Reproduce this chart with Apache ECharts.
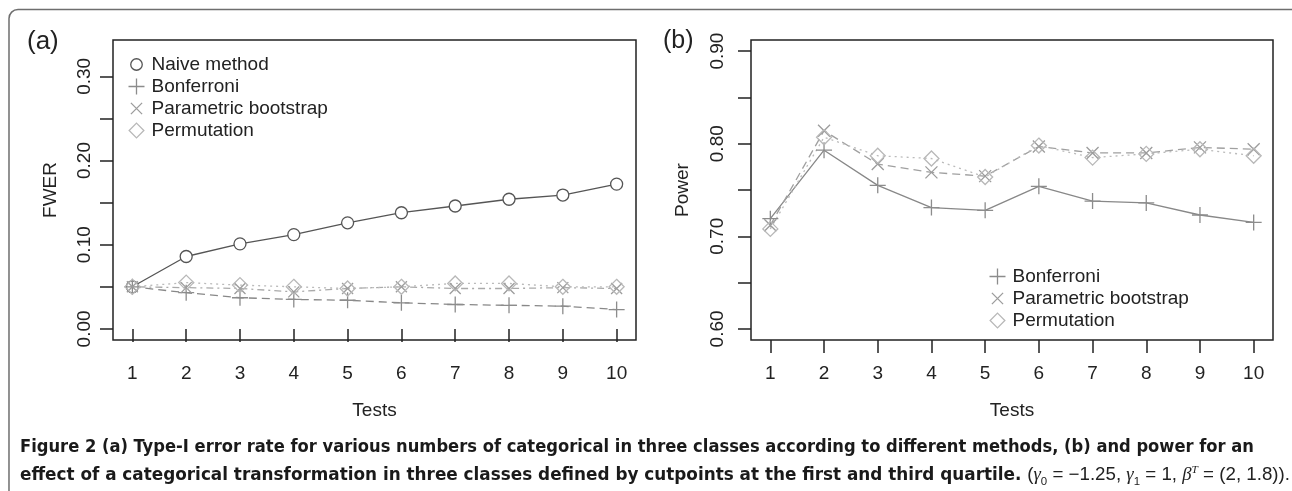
<!DOCTYPE html>
<html><head><meta charset="utf-8">
<script src="https://cdn.jsdelivr.net/npm/echarts@6/dist/echarts.min.js"></script>
<style>
html,body{margin:0;padding:0;background:#fff;}
#chart{position:absolute;left:0;top:0;width:1292px;height:491px;}
.cap{position:absolute;left:20px;white-space:nowrap;font-family:"Liberation Sans Narrow","DejaVu Sans Condensed","Liberation Sans",sans-serif;font-weight:bold;font-size:18px;color:#1a1a1a;transform-origin:0 0;line-height:20px;}
.math{font-weight:normal;color:#222;font-family:"Liberation Sans Narrow","Liberation Sans",sans-serif;}
.math i{font-family:"Liberation Serif",serif;}
</style></head><body>
<div id="chart"></div>
<div class="cap" id="cap1" data-w="1234" style="top:436px">Figure 2 (a) Type-I error rate for various numbers of categorical in three classes according to different methods, (b) and power for an</div>
<div class="cap" id="cap2" data-w="1270" style="top:459px">effect of a categorical transformation in three classes defined by cutpoints at the first and third quartile. <span class="math">(<i>γ</i><sub style="font-size:11px">0</sub> = −1.25, <i>γ</i><sub style="font-size:11px">1</sub> = 1, <i>β</i><sup style="font-size:11px"><i>T</i></sup> = (2, 1.8)).</span></div>
<script>
// ---- data ----
const tests = [1, 2, 3, 4, 5, 6, 7, 8, 9, 10];
const fwerNaive       = [0.050, 0.086, 0.101, 0.112, 0.126, 0.138, 0.146, 0.154, 0.159, 0.172];
const fwerBonferroni  = [0.050, 0.043, 0.037, 0.035, 0.034, 0.031, 0.029, 0.028, 0.027, 0.023];
const fwerParametric  = [0.050, 0.049, 0.048, 0.044, 0.048, 0.050, 0.048, 0.048, 0.049, 0.048];
const fwerPermutation = [0.050, 0.055, 0.052, 0.050, 0.048, 0.050, 0.054, 0.054, 0.050, 0.050];
const powerBonferroni  = [0.719, 0.793, 0.755, 0.731, 0.728, 0.754, 0.738, 0.736, 0.723, 0.715];
const powerParametric  = [0.712, 0.814, 0.778, 0.769, 0.765, 0.797, 0.790, 0.790, 0.796, 0.794];
const powerPermutation = [0.708, 0.807, 0.787, 0.784, 0.764, 0.798, 0.785, 0.789, 0.794, 0.787];
const fwerTicks  = [0, 0.05, 0.10, 0.15, 0.20, 0.25, 0.30];
const fwerLabels = [0, 0.10, 0.20, 0.30];
const powerTicks  = [0.60, 0.65, 0.70, 0.75, 0.80, 0.85, 0.90];
const powerLabels = [0.60, 0.70, 0.80, 0.90];
const seriesNames = ['Naive method', 'Bonferroni', 'Parametric bootstrap', 'Permutation'];

// ---- styles ----
const FONT = '"Liberation Sans", Arial, sans-serif';
const C = { naive: '#555555', bonf: '#8c8c8c', param: '#9c9c9c', perm: '#b8b8b8' };
const SYM = {
  circle: 'path://M1,0A1,1 0 1 1 -1,0A1,1 0 1 1 1,0Z',
  plus: 'path://M0,-1L0,1M-1,0L1,0',
  cross: 'path://M-1,-1L1,1M-1,1L1,-1',
  diamond: 'path://M0,-1L1,0L0,1L-1,0Z'
};
const LEGSYM = {
  circle: 'path://M-1,-1M1,1M0.72,0A0.72,0.72 0 1 1 -0.72,0A0.72,0.72 0 1 1 0.72,0Z',
  plus: 'path://M0,-1L0,1M-1,0L1,0',
  cross: 'path://M-1,-1M1,1M-0.7,-0.7L0.7,0.7M-0.7,0.7L0.7,-0.7',
  diamond: 'path://M-1,-1M1,1M0,-0.92L0.92,0L0,0.92L-0.92,0Z'
};

const pairs = ys => tests.map((t, i) => [t, ys[i]]);

function mkSeries(name, idx, ys, color, dash, sym, size, fill, lineColor) {
  return {
    type: 'line', name: name, xAxisIndex: idx, yAxisIndex: idx,
    data: pairs(ys), symbol: SYM[sym], symbolSize: size,
    itemStyle: { color: fill, borderColor: color, borderWidth: 1.3 },
    lineStyle: { color: lineColor || color, width: 1.3, type: dash },
    emphasis: { disabled: true }, silent: true
  };
}

function xAxis(idx) {
  return {
    type: 'value', gridIndex: idx, min: 0.64, max: 10.36,
    name: 'Tests', nameLocation: 'middle', nameGap: 61,
    nameTextStyle: { fontFamily: FONT, fontSize: 19, color: '#222' },
    axisLine: { show: false }, splitLine: { show: false },
    axisTick: { show: true, inside: false, length: 13, customValues: tests, lineStyle: { color: '#222', width: 1.5 } },
    axisLabel: { customValues: tests, margin: 24, fontFamily: FONT, fontSize: 19, color: '#222' }
  };
}
function yAxis(idx, name, min, max, ticks, labels, margin, gap) {
  return {
    type: 'value', gridIndex: idx, min: min, max: max,
    name: name, nameLocation: 'middle', nameGap: gap, nameRotate: 90,
    nameTextStyle: { fontFamily: FONT, fontSize: 19, color: '#222' },
    axisLine: { show: false }, splitLine: { show: false },
    axisTick: { show: true, inside: false, length: 13, customValues: ticks, lineStyle: { color: '#222', width: 1.5 } },
    axisLabel: { customValues: labels, rotate: 90, margin: margin, fontFamily: FONT, fontSize: 19, color: '#222',
                 formatter: v => Number(v).toFixed(2) }
  };
}
function legendItem(name, sym, color) {
  return { name: name, icon: LEGSYM[sym], itemStyle: { color: 'none', borderColor: color, borderWidth: 1.3 } };
}

const chart = echarts.init(document.getElementById('chart'), null, { renderer: 'canvas' });
chart.setOption({
  animation: false,
  backgroundColor: '#ffffff',
  grid: [
    { left: 113, top: 40, width: 523, height: 300, show: true, borderColor: '#222', borderWidth: 1.5, backgroundColor: 'transparent' },
    { left: 751, top: 40, width: 522, height: 300, show: true, borderColor: '#222', borderWidth: 1.5, backgroundColor: 'transparent' }
  ],
  xAxis: [xAxis(0), xAxis(1)],
  yAxis: [
    yAxis(0, 'FWER', -0.0132, 0.3432, fwerTicks, fwerLabels, 19, 53),
    yAxis(1, 'Power', 0.588, 0.912, powerTicks, powerLabels, 24, 59)
  ],
  legend: [
    {
      orient: 'vertical', left: 121, top: 49, itemWidth: 20, itemHeight: 16, itemGap: 1,
      selectedMode: false,
      textStyle: { fontFamily: FONT, fontSize: 19, color: '#222', lineHeight: 19 },
      data: [
        legendItem(seriesNames[0], 'circle', C.naive),
        legendItem(seriesNames[1], 'plus', C.bonf),
        legendItem(seriesNames[2], 'cross', C.param),
        legendItem(seriesNames[3], 'diamond', C.perm)
      ]
    },
    {
      orient: 'vertical', left: 982, top: 261, itemWidth: 20, itemHeight: 16, itemGap: 1,
      selectedMode: false,
      textStyle: { fontFamily: FONT, fontSize: 19, color: '#222', lineHeight: 19 },
      data: [
        legendItem(seriesNames[1], 'plus', C.bonf),
        legendItem(seriesNames[2], 'cross', C.param),
        legendItem(seriesNames[3], 'diamond', C.perm)
      ]
    }
  ],
  graphic: [
    { type: 'rect', shape: { x: 9, y: 9.5, width: 1300, height: 520, r: 9 }, style: { fill: 'none', stroke: '#6e6e6e', lineWidth: 1.5 }, silent: true, z: -1 },
    { type: 'text', x: 27, y: 29, style: { text: '(a)', fontFamily: FONT, fontSize: 26, fill: '#222' }, silent: true },
    { type: 'text', x: 663, y: 29, style: { text: '(b)', fontFamily: FONT, fontSize: 25, fill: '#222' }, silent: true }
  ],
  series: [
    mkSeries(seriesNames[0], 0, fwerNaive, C.naive, 'solid', 'circle', 12, '#ffffff'),
    mkSeries(seriesNames[1], 0, fwerBonferroni, C.bonf, [8, 5], 'plus', 16, 'none', '#888'),
    mkSeries(seriesNames[2], 0, fwerParametric, C.param, [2, 4, 7, 4], 'cross', 11, 'none', '#aaa'),
    mkSeries(seriesNames[3], 0, fwerPermutation, C.perm, [2, 4], 'diamond', 15, 'none', '#bbb'),
    mkSeries(seriesNames[1], 1, powerBonferroni, C.bonf, 'solid', 'plus', 16, 'none', '#888'),
    mkSeries(seriesNames[2], 1, powerParametric, C.param, [8, 5], 'cross', 12, 'none', '#a0a0a0'),
    mkSeries(seriesNames[3], 1, powerPermutation, C.perm, [2, 4], 'diamond', 15, 'none', '#bbb')
  ]
});

// fit caption lines to their measured widths in the reference
document.querySelectorAll('.cap').forEach(el => {
  const w = el.getBoundingClientRect().width;
  const target = Number(el.dataset.w);
  el.style.transform = 'scaleX(' + (target / w) + ')';
});
</script>
</body></html>
